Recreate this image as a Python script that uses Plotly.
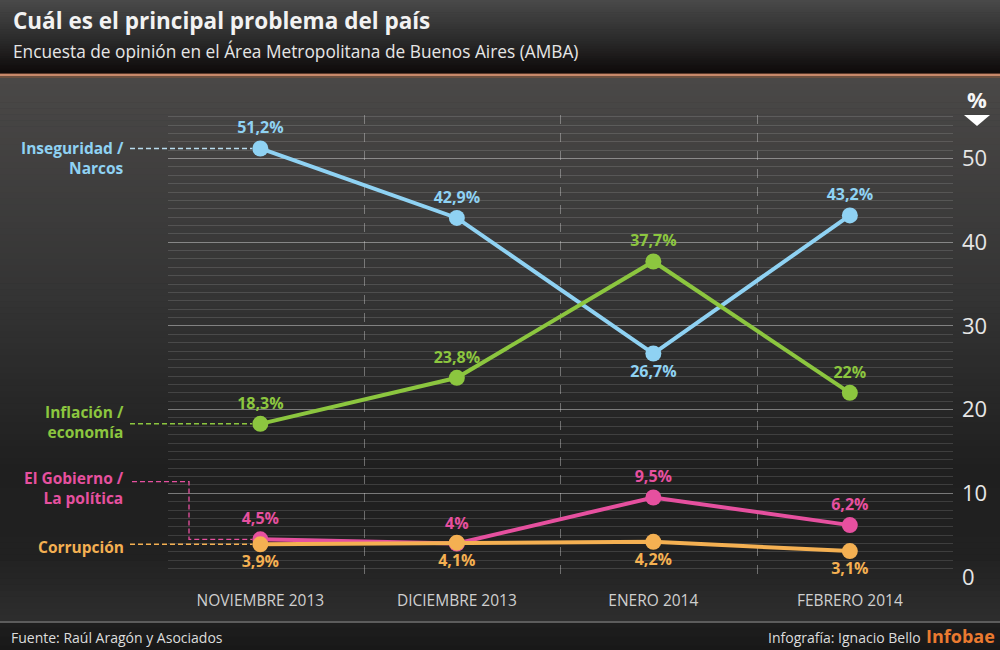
import plotly.graph_objects as go

# ---------------- data ----------------
months = ["NOVIEMBRE 2013", "DICIEMBRE 2013", "ENERO 2014", "FEBRERO 2014"]
inseguridad = [51.2, 42.9, 26.7, 43.2]
inflacion = [18.3, 23.8, 37.7, 22.0]
gobierno = [4.5, 4.0, 9.5, 6.2]
corrupcion = [3.9, 4.1, 4.2, 3.1]
y_ticks = [0, 10, 20, 30, 40, 50]

series_names = ["Inseguridad /<br>Narcos", "Inflación /<br>economía",
                "El Gobierno /<br>La política", "Corrupción"]

BLUE = "#8fd2f3"
GREEN = "#8cc63f"
PINK = "#e6509f"
ORANGE = "#f4b052"

FONT = "Open Sans"


def fmt(v):
    s = ("%.1f" % v).replace(".", ",")
    if s.endswith(",0"):
        s = s[:-2]
    return s + "%"


xs = list(range(len(months)))

fig = go.Figure()


def add_series(vals, color, positions, name):
    fig.add_trace(go.Scatter(
        x=xs, y=vals, name=name, mode="lines+markers+text",
        line=dict(color=color, width=4),
        marker=dict(color=color, size=16),
        text=[fmt(v) for v in vals],
        textposition=positions,
        textfont=dict(family=FONT, size=16, color=color, weight="bold"),
        cliponaxis=False, hoverinfo="skip", showlegend=False))


add_series(inseguridad, BLUE, ["top center", "top center", "bottom center", "top center"], "Inseguridad")
add_series(inflacion, GREEN, ["top center"] * 4, "Inflación")
add_series(gobierno, PINK, ["top center"] * 4, "Gobierno")
add_series(corrupcion, ORANGE, ["bottom center"] * 4, "Corrupción")

# ---------------- background (gradient bands) ----------------
W, H = 1000, 650


def hex2rgb(h):
    h = h.lstrip("#")
    return [int(h[i:i + 2], 16) for i in (0, 2, 4)]


def lerp_stops(stops, t):
    for (t0, c0), (t1, c1) in zip(stops, stops[1:]):
        if t0 <= t <= t1:
            f = 0 if t1 == t0 else (t - t0) / (t1 - t0)
            a, b = hex2rgb(c0), hex2rgb(c1)
            return "rgb(%d,%d,%d)" % tuple(round(a[i] + (b[i] - a[i]) * f) for i in range(3))
    return stops[-1][1]


shapes = []


def band(y0px, y1px, stops, n):
    step = (y1px - y0px) / n
    for i in range(n):
        a = y0px + i * step
        b = a + step + 0.6
        col = lerp_stops(stops, (i + 0.5) / n)
        shapes.append(dict(type="rect", xref="paper", yref="paper", layer="below",
                           x0=0, x1=1, y0=1 - b / H, y1=1 - a / H,
                           fillcolor=col, line=dict(width=0)))


band(0, 73, [(0, "#4a4a4a"), (0.55, "#2a2a2a"), (1, "#0e0909")], 30)
band(73, 74, [(0, "#5a3a2c"), (1, "#5a3a2c")], 1)
band(74, 76, [(0, "#c7886a"), (1, "#c7886a")], 1)
band(76, 78, [(0, "#6a5040"), (1, "#6a5040")], 1)
band(78, 621, [(0, "#4a4847"), (0.4, "#343434"), (0.72, "#1f1f1f"),
               (0.88, "#212121"), (1, "#2e2e2e")], 90)
band(621, 623, [(0, "#5c5c5c"), (1, "#5c5c5c")], 1)
band(623, 650, [(0, "#1e1e1e"), (1, "#181818")], 6)

# plot-area geometry
X_DOM = [168 / W, 953 / W]
Y_DOM = [1 - 577 / H, 1 - 115 / H]
Y_RANGE = [0, 55.2]
X_RANGE = [-0.47, 3.525]

DASH = "5px,3px"
# leader lines (dashed) from labels to first points
shapes.append(dict(type="line", xref="paper", yref="y", x0=130 / W, x1=252 / W,
                   y0=inseguridad[0], y1=inseguridad[0],
                   line=dict(color="#b9dcee", width=1.5, dash=DASH), layer="above"))
shapes.append(dict(type="line", xref="paper", yref="y", x0=130 / W, x1=252 / W,
                   y0=inflacion[0], y1=inflacion[0],
                   line=dict(color=GREEN, width=1.5, dash=DASH), layer="above"))
shapes.append(dict(type="line", xref="paper", yref="y", x0=130 / W, x1=252 / W,
                   y0=corrupcion[0], y1=corrupcion[0],
                   line=dict(color=ORANGE, width=1.5, dash=DASH), layer="above"))
shapes.append(dict(type="path", xref="paper", yref="y",
                   path="M %f,11.4 H %f V %f H %f" % (132 / W, 189 / W, gobierno[0], 252 / W),
                   line=dict(color=PINK, width=1.3, dash=DASH), layer="above"))

# % marker triangle
shapes.append(dict(type="path", xref="paper", yref="paper",
                   path="M %f,%f L %f,%f L %f,%f Z" % (964 / W, 1 - 115 / H, 990 / W, 1 - 115 / H,
                                                       977 / W, 1 - 126 / H),
                   fillcolor="white", line=dict(width=0), layer="above"))

annotations = [
    dict(text="<b>Cuál es el principal problema del país</b>", x=11 / W, y=1 - 20 / H,
         xref="paper", yref="paper", xanchor="left", yanchor="middle", showarrow=False,
         font=dict(family=FONT, size=22.5, color="#f2f2f2")),
    dict(text="Encuesta de opinión en el Área Metropolitana de Buenos Aires (AMBA)",
         x=11 / W, y=1 - 52 / H, xref="paper", yref="paper", xanchor="left",
         yanchor="middle", showarrow=False, font=dict(family=FONT, size=17.3, color="#e6e6e6")),
    dict(text="<b>%</b>", x=977 / W, y=1 - 99 / H, xref="paper", yref="paper",
         xanchor="center", yanchor="middle", showarrow=False,
         font=dict(family=FONT, size=22, color="#f5f5f5")),
    dict(text="Fuente: Raúl Aragón y Asociados", x=9 / W, y=1 - 637 / H, xref="paper",
         yref="paper", xanchor="left", yanchor="middle", showarrow=False,
         font=dict(family=FONT, size=14, color="#dddddd")),
    dict(text="Infografía: Ignacio Bello", x=923 / W, y=1 - 637 / H, xref="paper",
         yref="paper", xanchor="right", yanchor="middle", showarrow=False,
         font=dict(family=FONT, size=14, color="#dddddd")),
    dict(text="<b>Infobae</b>", x=997 / W, y=1 - 636 / H, xref="paper",
         yref="paper", xanchor="right", yanchor="middle", showarrow=False,
         font=dict(family=FONT, size=18, color="#ea7a30")),
]

label_pos = [(158, BLUE), (421.5, GREEN), (488, PINK), (547, ORANGE)]
for name, (ypx, col) in zip(series_names, label_pos):
    annotations.append(dict(text="<b>%s</b>" % name, x=126 / W, y=1 - ypx / H,
                            xref="paper", yref="paper", xanchor="right",
                            yanchor="middle", align="right", showarrow=False,
                            font=dict(family=FONT, size=15.5, color=col)))

fig.update_layout(
    template="none",
    width=W, height=H, margin=dict(l=0, r=0, t=0, b=0, pad=0),
    paper_bgcolor="#2a2a2a", plot_bgcolor="rgba(0,0,0,0)",
    shapes=shapes, annotations=annotations,
    xaxis=dict(domain=X_DOM, range=X_RANGE, tickmode="array", tickvals=xs,
               ticktext=months, showgrid=False, zeroline=False, showline=False,
               ticks="", ticklabelstandoff=12, automargin=False,
               tickfont=dict(family=FONT, size=15.5, color="#cfcfcf"),
               minor=dict(tickmode="array", tickvals=[-0.468, 0.53, 1.53, 2.53, 3.52],
                          showgrid=True, griddash="dash", gridwidth=1,
                          gridcolor="rgba(200,200,200,0.45)", ticks="")),
    yaxis=dict(domain=Y_DOM, range=Y_RANGE, side="right", tickmode="array",
               tickvals=y_ticks, showgrid=True, gridcolor="rgba(220,220,220,0.38)",
               gridwidth=1.2, zeroline=False, showline=False, ticks="",
               ticklabelstandoff=8, automargin=False,
               tickfont=dict(family=FONT, size=22, color="#e6e6e6"),
               minor=dict(dtick=1, tick0=0, showgrid=True,
                          gridcolor="rgba(220,220,220,0.16)", gridwidth=1, ticks="")),
    font=dict(family=FONT),
)

fig.write_html("out.html")
